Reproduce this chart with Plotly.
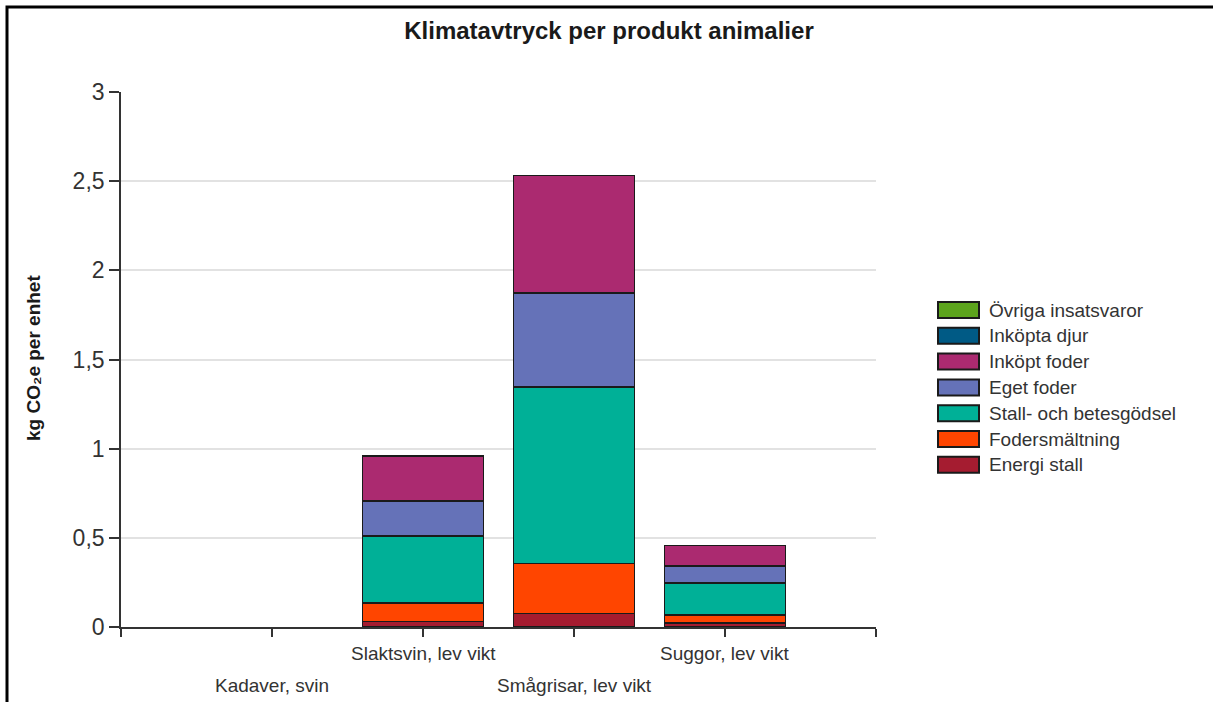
import plotly.graph_objects as go

# Product categories (x positions 0..3) and their axis labels
products = ["Kadaver, svin", "Slaktsvin, lev vikt", "Smågrisar, lev vikt", "Suggor, lev vikt"]
tick_positions = [-1, 0, 1, 2, 3, 4]
label_rows = [1, 0, 1, 0]  # staggered label rows (0 = upper, 1 = lower)

# Emission sources, stacked from the bottom up (kg CO2e per unit)
energi_stall = [0.0, 0.030, 0.075, 0.022]
fodersmaltning = [0.0, 0.106, 0.280, 0.044]
stall_betesgodsel = [0.0, 0.373, 0.990, 0.182]
eget_foder = [0.0, 0.199, 0.527, 0.094]
inkopt_foder = [0.0, 0.252, 0.660, 0.116]
inkopta_djur = [0.0, 0.0, 0.0, 0.0]
ovriga_insatsvaror = [0.0, 0.0, 0.0, 0.0]

series = [
    ("Energi stall", energi_stall, "#A51C30"),
    ("Fodersmältning", fodersmaltning, "#FF4500"),
    ("Stall- och betesgödsel", stall_betesgodsel, "#00B097"),
    ("Eget foder", eget_foder, "#6572B8"),
    ("Inköpt foder", inkopt_foder, "#AB2A70"),
    ("Inköpta djur", inkopta_djur, "#005A85"),
    ("Övriga insatsvaror", ovriga_insatsvaror, "#5CA41C"),
]

x_pos = list(range(len(products)))

W, H = 1213, 702
L, R, T, B = 121, 337, 92, 75
pw, ph = W - L - R, H - T - B
FONT = "Liberation Sans, Arial, sans-serif"


def px_x(px):
    return (px - L) / pw


def px_y(py):
    return (H - B - py) / ph


fig = go.Figure()
for name, vals, color in series:
    # empty segments are left out so no zero-height outlines are drawn
    fig.add_trace(go.Bar(
        x=x_pos, y=[v if v else None for v in vals], name=name, width=0.8,
        showlegend=False,
        marker=dict(color=color, line=dict(color="#1a1a1a", width=1.6)),
    ))

annotations = []
# staggered category labels under the x axis
for xp, text, row in zip(x_pos, products, label_rows):
    annotations.append(dict(
        x=xp, xref="x", y=px_y(653 + 32 * row), yref="paper",
        text=text, showarrow=False, xanchor="center", yanchor="middle",
        font=dict(family=FONT, size=19, color="#333333"),
    ))

# y axis title
annotations.append(dict(
    x=px_x(33), xref="paper", y=px_y(358), yref="paper",
    text="<b>kg CO₂e per enhet</b>", textangle=-90, showarrow=False,
    xanchor="center", yanchor="middle",
    font=dict(family=FONT, size=19, color="#1a1a1a"),
))

shapes = [
    # outer frame
    dict(type="rect", xref="paper", yref="paper",
         x0=px_x(7), x1=px_x(W + 10), y0=px_y(H + 10), y1=px_y(7),
         line=dict(color="black", width=3), fillcolor="rgba(0,0,0,0)", layer="above"),
]

# legend: topmost entry is the last stacked series
for i, (name, vals, color) in enumerate(reversed(series)):
    cy = 310 + 25.8 * i
    shapes.append(dict(
        type="rect", xref="paper", yref="paper",
        x0=px_x(938), x1=px_x(979), y0=px_y(cy + 8), y1=px_y(cy - 8),
        line=dict(color="#1a1a1a", width=2), fillcolor=color, layer="above",
    ))
    annotations.append(dict(
        x=px_x(987), xref="paper", y=px_y(cy), yref="paper",
        text=name, showarrow=False, xanchor="left", yanchor="middle",
        font=dict(family=FONT, size=19, color="#333333"),
    ))

fig.update_layout(
    width=W, height=H, autosize=False,
    barmode="stack",
    separators=", ",
    showlegend=False,
    paper_bgcolor="white", plot_bgcolor="white",
    margin=dict(l=L, r=R, t=T, b=B, pad=0),
    font=dict(family=FONT, color="#333333"),
    title=dict(
        text="<b>Klimatavtryck per produkt animalier</b>",
        x=px_x(609), xref="paper", xanchor="center",
        y=1 - 31 / H, yref="container", yanchor="middle",
        font=dict(size=24, color="#1a1a1a"),
    ),
    xaxis=dict(
        range=[-1, 4], tickmode="array", tickvals=tick_positions,
        ticktext=[""] * len(tick_positions),
        showgrid=False, zeroline=False,
        showline=True, linecolor="#333333", linewidth=1.6,
        ticks="outside", ticklen=8, tickcolor="#333333", tickwidth=1.6,
    ),
    yaxis=dict(
        range=[0, 3], tickmode="array", tickvals=[0, 0.5, 1, 1.5, 2, 2.5, 3],
        showgrid=True, gridcolor="#e2e2e2", gridwidth=1.6, zeroline=False,
        showline=True, linecolor="#333333", linewidth=1.6,
        ticks="outside", ticklen=10, tickcolor="#333333", tickwidth=1.6,
        tickfont=dict(size=23, color="#333333"),
    ),
    annotations=annotations,
    shapes=shapes,
)

fig.write_html("out.html")
